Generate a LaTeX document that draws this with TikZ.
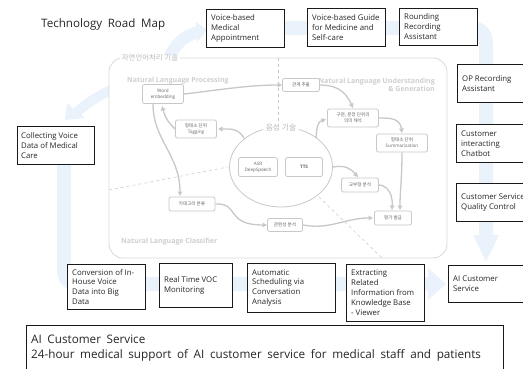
\documentclass[tikz,border=0pt]{standalone}
\usepackage{fontspec}
\setmainfont{Open Sans}
\newfontfamily\kr{Noto Sans CJK KR}
\usetikzlibrary{arrows.meta,shapes.geometric}
\definecolor{bgblue}{HTML}{EAF2FC}
\definecolor{ing}{HTML}{C8C8C8}
\definecolor{ilab}{HTML}{CFCFCF}
\definecolor{itx}{HTML}{666666}
\tikzset{x=1pt,y=-1pt,
 bigbox/.style={draw=black!90,line width=0.9pt,fill=white,inner sep=0pt,anchor=north west},
 bigtext/.style={anchor=west,align=left,inner sep=0pt,text=black!85,font=\fontsize{7.8}{9.9}\selectfont},
 inbox/.style={draw=ing,line width=0.8pt,rounded corners=2pt,fill=white,inner sep=0pt,text=itx,align=center,font=\fontsize{4.6}{6}\selectfont},
 krbox/.style={inbox,font=\kr\fontsize{4.6}{6}\selectfont},
 flow/.style={draw=ing,line width=1.3pt,-{Triangle[length=4.5pt,width=4.5pt]}},
 region/.style={text=ilab,inner sep=0pt,font=\bfseries\fontsize{7}{8.5}\selectfont},
 dash line/.style={draw=ing,line width=0.5pt,dashed},
 bgflow/.style={draw=bgblue}}
\newcommand{\bbox}[7]{\node[bigbox,minimum width=#4pt-#2pt,minimum height=#5pt-#3pt] (#1) at (#2,#3) {};
 \node[bigtext] (#1t) at ([xshift=#6pt]#1.west) {#7};}
\begin{document}
\begin{tikzpicture}
\useasboundingbox (0,0) rectangle (523,369);
% pale road arrow
\coordinate (p1) at (164,80);
\draw[bgflow,line width=12pt] (p1) .. controls (166,55) and (178,37) .. (198,32);
\fill[bgblue] (196,22) -- (207,30) -- (197,42) -- cycle;
\draw[bgflow,line width=14pt] (283,28) -- (470,28) .. controls (480,28) and (486,33) .. (486,44) -- (486,240);
\fill[bgblue] (473,235) -- (499,235) -- (486,262) -- cycle;
\draw[bgflow,line width=14pt] (64,164) -- (64,270) .. controls (64,280) and (70,284) .. (80,284) -- (430,284);
\fill[bgblue] (428,268) -- (446,284) -- (428,300) -- cycle;
\draw[bgflow,line width=10pt] (115,88) .. controls (100,95) and (88,102) .. (77,112);
\fill[bgblue] (65,120) -- (67,103) -- (85,118) -- cycle;
% inner panel
\draw[draw=ing!70,line width=0.8pt,rounded corners=14pt,fill=white] (109,58) -- (447,58) -- (447,258) -- (109,258) -- cycle;
\node[fill=white,inner xsep=2pt,inner ysep=0pt,text=ilab!90!black,font=\kr\fontsize{7.4}{8}\selectfont] (title) at (150,58) {자연언어처리 기술};
\coordinate (d1a) at (109,190); \coordinate (d1b) at (228,167);
\coordinate (d2a) at (278,58); \coordinate (d2b) at (278,125);
\coordinate (d3a) at (319,197); \coordinate (d3b) at (382,258);
\draw[dash line] (d1a) -- (d1b);
\draw[dash line] (d2a) -- (d2b);
\draw[dash line] (d3a) -- (d3b);
\node[region,anchor=west] (r1) at (127,81) {Natural Language Processing};
\node[region,anchor=east,align=right] (r2) at (435,85) {Natural Language Understanding\\\& Generation};
\node[region,anchor=west] (r3) at (121,242) {Natural Language Classifier};
% centre
\node[draw=ing,line width=0.8pt,ellipse,minimum width=103pt,minimum height=80pt,inner sep=0pt] (voice) at (281,167) {};
\node[fill=white,inner xsep=3pt,inner ysep=1pt,text=ilab!90!black,font=\kr\fontsize{7.8}{9}\selectfont] (voicet) at (281,128) {음성 기술};
\node[inbox,minimum width=39pt,minimum height=19pt] (asr) at (258,167) {ASR\\DeepSpeech};
\node[inbox,minimum width=37pt,minimum height=19pt,font=\bfseries\fontsize{4.6}{6}\selectfont] (tts) at (304,167) {TTS};
\node[inbox,minimum width=41pt,minimum height=19pt] (word) at (163,94) {Word\\embedding};
\node[inbox,minimum width=41pt,minimum height=18pt] (tag) at (196,129) {{\kr 형태소 단위}\\Tagging};
\node[krbox,minimum width=37pt,minimum height=13pt] (rel) at (301,85) {관계 추출};
\node[krbox,minimum width=51pt,minimum height=18pt] (phrase) at (353,118) {구문, 문장 단위의\\의미 해석};
\node[inbox,minimum width=51pt,minimum height=18pt] (summ) at (402,143) {{\kr 형태소 단위}\\Summarization};
\node[krbox,minimum width=37pt,minimum height=14pt] (gyo) at (360,185) {교부형 분석};
\node[krbox,minimum width=37pt,minimum height=14pt] (eval) at (393,218) {평가 발급};
\node[krbox,minimum width=35pt,minimum height=13pt] (relv) at (285,225) {관련성 분석};
\node[krbox,minimum width=46pt,minimum height=14pt] (cat) at (192,204) {카테고리 분류};
% flows
\draw[flow] (word.east) .. controls (205,92) and (245,85) .. (rel.west);
\draw[flow] (rel.east) .. controls (335,85) and (345,90) .. (353,108);
\draw[flow] (voice) ++(35,-29) .. controls (317,125) and (318,122) .. (326,119);
\draw[flow] (phrase.east) .. controls (390,118) and (400,118) .. (402,133);
\draw[flow] (summ.south) .. controls (402,180) and (400,190) .. (400,210);
\draw[flow] (gyo.east) .. controls (384,185) and (393,190) .. (392,210);
\draw[flow] (voice.east) .. controls (345,165) and (350,168) .. (358,177);
\draw[flow] (relv.east) .. controls (330,230) and (345,218) .. (373,218);
\draw[flow] (cat.east) .. controls (240,203) and (225,225) .. (267,225);
\draw[flow] (153,104) .. controls (153,140) and (180,155) .. (180,196);
\draw[flow] (244,138) .. controls (238,128) and (230,129) .. (218,129);
\draw[flow] (tag.west) .. controls (170,124) and (166,120) .. (162,106);
% outer boxes
\bbox{vm}{206}{9}{284}{47}{5}{Voice-based\\Medical\\Appointment}
\bbox{vg}{307}{8}{385}{46}{5}{Voice-based Guide\\for Medicine and\\Self-care}
\bbox{rr}{399}{8}{477}{45}{5}{Rounding\\Recording\\Assistant}
\bbox{op}{457}{64}{530}{102}{5}{OP Recording\\Assistant}
\bbox{ci}{456}{124}{530}{162}{5}{Customer\\interacting\\Chatbot}
\bbox{qc}{456}{183}{530}{221}{5}{Customer Service\\Quality Control}
\bbox{ai}{448}{265}{530}{302}{5}{AI Customer\\Service}
\bbox{cv}{17}{126}{94}{164}{4}{Collecting Voice\\Data of Medical\\Care}
\bbox{cb}{67}{264}{145}{309}{5}{Conversion of In-\\House Voice\\Data into Big\\Data}
\bbox{rt}{159}{263}{232}{307}{5}{Real Time VOC\\Monitoring}
\bbox{as}{247}{263}{335}{312}{5}{Automatic\\Scheduling via\\Conversation\\Analysis}
\bbox{ex}{346}{264}{424}{321}{5}{Extracting\\Related\\Information from\\Knowledge Base\\- Viewer}
\bbox{sv}{26}{325}{503}{380}{5}{}
\node[anchor=north west,inner sep=0pt,align=left,text=black!85,font=\fontsize{11.7}{15}\selectfont] (svt) at (31,335) {\spaceskip=.48em AI Customer Service\\\spaceskip=.48em 24-hour medical support of AI customer service for medical staff and patients};
\node[anchor=west,inner sep=0pt,text=black!85,font=\fontsize{11.6}{13}\selectfont] (ttl) at (41,24) {\spaceskip=.48em Technology Road Map};
\end{tikzpicture}
\end{document}
